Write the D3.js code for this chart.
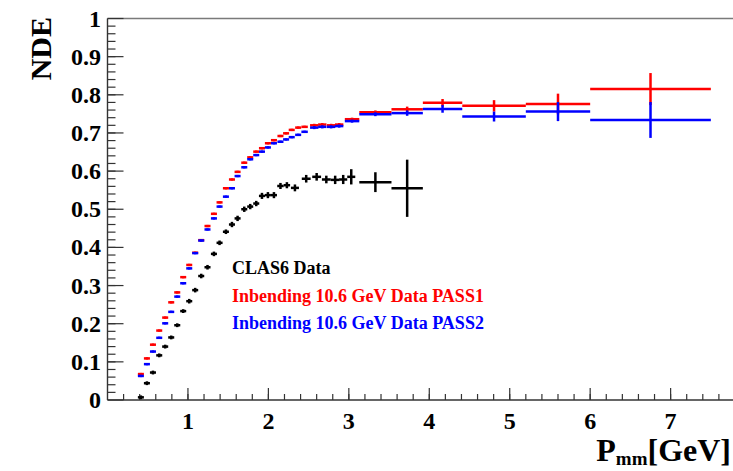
<!DOCTYPE html>
<html>
<head>
<meta charset="utf-8">
<script src="https://cdn.jsdelivr.net/npm/d3@7"></script>
<style>
  html, body { margin: 0; padding: 0; background: #fff; }
  svg text { font-family: "Liberation Serif", "Times New Roman", serif; font-weight: bold; }
</style>
</head>
<body>
<div id="chart"></div>
<script>
// NDE vs P_mm, CLAS6 vs CLAS12 pass1/pass2
const passX = [0.415, 0.49, 0.565, 0.643, 0.717, 0.792, 0.867, 0.941, 1.016, 1.09,
  1.165, 1.243, 1.323, 1.393, 1.472, 1.547, 1.617, 1.70, 1.774, 1.849,
  1.92, 1.994, 2.069, 2.15, 2.22, 2.29, 2.37, 2.45, 2.57, 2.67,
  2.78, 2.88, 3.04, 3.33, 3.725, 4.165, 4.805, 5.6, 6.75];
const passHalfWidth = [0.0375, 0.0375, 0.0375, 0.0375, 0.0375, 0.0375, 0.0375, 0.0375, 0.0375, 0.0375,
  0.0375, 0.0375, 0.0375, 0.0375, 0.0375, 0.0375, 0.0375, 0.0375, 0.0375, 0.0375,
  0.0375, 0.0375, 0.0375, 0.0375, 0.0375, 0.0375, 0.0375, 0.04, 0.052, 0.052,
  0.052, 0.052, 0.09, 0.2, 0.195, 0.245, 0.395, 0.4, 0.75];
const pass1Values = [0.068, 0.109, 0.145, 0.182, 0.216, 0.256, 0.282, 0.322, 0.354, 0.386,
  0.419, 0.456, 0.488, 0.518, 0.555, 0.578, 0.598, 0.622, 0.636, 0.651,
  0.660, 0.673, 0.681, 0.692, 0.699, 0.708, 0.714, 0.716, 0.720, 0.722,
  0.720, 0.722, 0.736, 0.754, 0.762, 0.779, 0.771, 0.776, 0.815];
const pass1Errors = [0.003, 0.003, 0.003, 0.003, 0.003, 0.003, 0.003, 0.003, 0.003, 0.003,
  0.003, 0.003, 0.003, 0.003, 0.003, 0.003, 0.003, 0.003, 0.003, 0.003,
  0.003, 0.003, 0.003, 0.003, 0.003, 0.003, 0.003, 0.003, 0.004, 0.004,
  0.004, 0.004, 0.004, 0.005, 0.007, 0.010, 0.015, 0.027, 0.042];
const pass2Values = [0.063, 0.094, 0.127, 0.163, 0.201, 0.231, 0.271, 0.306, 0.345, 0.385,
  0.418, 0.447, 0.476, 0.507, 0.533, 0.555, 0.587, 0.610, 0.631, 0.642,
  0.651, 0.662, 0.673, 0.677, 0.683, 0.689, 0.695, 0.703, 0.714, 0.716,
  0.716, 0.718, 0.731, 0.749, 0.752, 0.763, 0.743, 0.756, 0.734];
const pass2Errors = [0.003, 0.003, 0.003, 0.003, 0.003, 0.003, 0.003, 0.003, 0.003, 0.003,
  0.003, 0.003, 0.003, 0.003, 0.003, 0.003, 0.003, 0.003, 0.003, 0.003,
  0.003, 0.003, 0.003, 0.003, 0.003, 0.003, 0.003, 0.003, 0.004, 0.004,
  0.004, 0.004, 0.004, 0.005, 0.007, 0.010, 0.013, 0.025, 0.047];

const clasX = [0.415, 0.49, 0.565, 0.643, 0.717, 0.792, 0.867, 0.941, 1.016, 1.09,
  1.165, 1.243, 1.323, 1.393, 1.472, 1.547, 1.617, 1.70, 1.774, 1.849,
  1.92, 1.994, 2.069, 2.15, 2.23, 2.33, 2.47, 2.60, 2.72, 2.83,
  2.93, 3.03, 3.33, 3.725];
const clasHalfWidth = [0.0375, 0.0375, 0.0375, 0.0375, 0.0375, 0.0375, 0.0375, 0.0375, 0.0375, 0.0375,
  0.0375, 0.0375, 0.0375, 0.0375, 0.0375, 0.0375, 0.0375, 0.0375, 0.0375, 0.0375,
  0.0375, 0.0375, 0.0375, 0.04, 0.04, 0.05, 0.055, 0.055, 0.055, 0.055,
  0.05, 0.05, 0.2, 0.195];
const clasValues = [0.007, 0.044, 0.072, 0.117, 0.140, 0.164, 0.196, 0.233, 0.259, 0.288,
  0.325, 0.348, 0.383, 0.412, 0.441, 0.460, 0.476, 0.500, 0.507, 0.515,
  0.535, 0.537, 0.537, 0.561, 0.563, 0.556, 0.580, 0.585, 0.578, 0.577,
  0.578, 0.585, 0.571, 0.555];
const clasErrors = [0.005, 0.005, 0.005, 0.005, 0.005, 0.005, 0.005, 0.005, 0.006, 0.006,
  0.006, 0.006, 0.006, 0.006, 0.006, 0.007, 0.007, 0.007, 0.007, 0.007,
  0.008, 0.008, 0.008, 0.008, 0.008, 0.009, 0.010, 0.010, 0.010, 0.011,
  0.012, 0.020, 0.026, 0.075];

const xMajorTicks = [1, 2, 3, 4, 5, 6, 7];
const yMajorTicks = [0, 0.1, 0.2, 0.3, 0.4, 0.5, 0.6, 0.7, 0.8, 0.9, 1];
const yTickLabels = ['0', '0.1', '0.2', '0.3', '0.4', '0.5', '0.6', '0.7', '0.8', '0.9', '1'];

const legendLabels = ['CLAS6 Data', 'Inbending 10.6 GeV Data PASS1', 'Inbending 10.6 GeV Data PASS2'];
const legendColors = ['#000000', '#ff0000', '#0000ff'];

const width = 733, height = 471;
const svg = d3.select('#chart').append('svg')
  .attr('width', width)
  .attr('height', height);

const x = d3.scaleLinear().domain([0, 7.85]).range([107.5, 739]);
const y = d3.scaleLinear().domain([0, 1]).range([400, 18.5]);

// Frame (top edge)
svg.append('line')
  .attr('x1', x(0)).attr('x2', width + 5)
  .attr('y1', y(1)).attr('y2', y(1))
  .attr('stroke', '#7a7a7a').attr('stroke-width', 1.6);

// Minor ticks
const xMinor = d3.range(0.2, 7.85, 0.2);
const yMinor = d3.range(0.02, 1, 0.02);

const ticks = svg.append('g').attr('stroke', '#333').attr('stroke-width', 1.2);
ticks.selectAll('.xminor').data(xMinor).join('line')
  .attr('x1', d => x(d)).attr('x2', d => x(d))
  .attr('y1', y(0)).attr('y2', y(0) - 6);
ticks.selectAll('.xmajor').data(xMajorTicks).join('line')
  .attr('x1', d => x(d)).attr('x2', d => x(d))
  .attr('y1', y(0)).attr('y2', y(0) - 12);
ticks.selectAll('.yminor').data(yMinor).join('line')
  .attr('x1', x(0)).attr('x2', x(0) + 8)
  .attr('y1', d => y(d)).attr('y2', d => y(d));
ticks.selectAll('.ymajor').data(yMajorTicks).join('line')
  .attr('x1', x(0)).attr('x2', x(0) + 16)
  .attr('y1', d => y(d)).attr('y2', d => y(d));

// Axis lines
svg.append('line')
  .attr('x1', x(0)).attr('x2', width + 5)
  .attr('y1', y(0)).attr('y2', y(0))
  .attr('stroke', '#333').attr('stroke-width', 1.4);
svg.append('line')
  .attr('x1', x(0)).attr('x2', x(0))
  .attr('y1', y(0)).attr('y2', y(1))
  .attr('stroke', '#333').attr('stroke-width', 1.4);

// Tick labels
svg.selectAll('.xlab').data(xMajorTicks).join('text')
  .attr('x', d => x(d))
  .attr('y', 429)
  .attr('text-anchor', 'middle')
  .style('font-size', '24px')
  .text(d => d);

svg.selectAll('.ylab').data(yMajorTicks).join('text')
  .attr('x', 101)
  .attr('y', d => y(d) + 8)
  .attr('text-anchor', 'end')
  .style('font-size', '24px')
  .text((d, i) => yTickLabels[i]);

// Axis titles
svg.append('text')
  .attr('transform', `translate(51, 17) rotate(-90)`)
  .attr('text-anchor', 'end')
  .style('font-size', '30px')
  .text('NDE');

const xTitle = svg.append('text')
  .attr('x', 731)
  .attr('y', 461)
  .attr('text-anchor', 'end')
  .style('font-size', '32px');
xTitle.append('tspan').text('P');
xTitle.append('tspan').attr('dy', 4).style('font-size', '19px').text('mm');
xTitle.append('tspan').attr('dy', -4).text('[GeV]');

// Data points with error bars
function drawSeries(xs, hw, vals, errs, color, sw) {
  const pts = xs.map((d, i) => ({ x: d, xe: hw[i], y: vals[i], e: errs[i] }));
  const g = svg.append('g').attr('stroke', color).attr('stroke-width', sw);
  g.selectAll('.h').data(pts).join('line')
    .attr('x1', d => x(d.x - d.xe)).attr('x2', d => x(d.x + d.xe))
    .attr('y1', d => y(d.y)).attr('y2', d => y(d.y));
  g.selectAll('.v').data(pts).join('line')
    .attr('x1', d => x(d.x)).attr('x2', d => x(d.x))
    .attr('y1', d => y(d.y - d.e)).attr('y2', d => y(d.y + d.e));
}

drawSeries(clasX, clasHalfWidth, clasValues, clasErrors, '#000000', 2.5);
drawSeries(passX, passHalfWidth, pass1Values, pass1Errors, '#ff0000', 2.5);
drawSeries(passX, passHalfWidth, pass2Values, pass2Errors, '#0000ff', 2.5);

// Legend
svg.selectAll('.leg').data(legendLabels).join('text')
  .attr('x', 232)
  .attr('y', (d, i) => 274 + i * 27.5)
  .style('font-size', '18px')
  .attr('fill', (d, i) => legendColors[i])
  .text(d => d);
</script>
</body>
</html>
